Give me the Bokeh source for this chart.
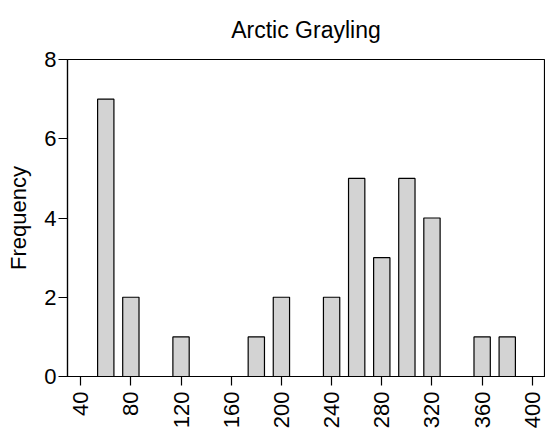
import math
from bokeh.plotting import figure
from bokeh.models import Range1d, FixedTicker
from bokeh.embed import file_html
from bokeh.resources import INLINE

# Data
lengths = [60, 80, 120, 180, 200, 240, 260, 280, 300, 320, 360, 380]
counts = [7, 2, 1, 1, 2, 2, 5, 3, 5, 4, 1, 1]
x_ticks = [40, 80, 120, 160, 200, 240, 280, 320, 360, 400]
y_ticks = [0, 2, 4, 6, 8]
title_text = "Arctic Grayling"

FONT = "Liberation Sans"

p = figure(width=545, height=438, output_backend="svg", toolbar_location=None,
           x_range=Range1d(29.5, 409.7), y_range=Range1d(0, 8),
           min_border_left=67, min_border_right=1, min_border_top=59,
           min_border_bottom=62, background_fill_color="white",
           border_fill_color="white")

p.vbar(x=lengths, top=counts, bottom=0, width=13, fill_color="#D3D3D3",
       line_color="black", line_width=1.2)

p.grid.visible = False
p.outline_line_color = "black"
p.outline_line_width = 1.2
p.outline_line_alpha = 1

p.title.text = title_text
p.title.text_font = FONT
p.title.text_font_size = "23px"
p.title.text_font_style = "normal"
p.title.text_color = "black"
p.title.align = "center"
p.title.vertical_align = "top"
p.title.offset = -7
p.title.standoff = 29

for ax in (p.xaxis[0], p.yaxis[0]):
    ax.axis_line_color = "black"
    ax.axis_line_width = 1.2
    ax.major_tick_line_color = "black"
    ax.major_tick_line_width = 1.2
    ax.major_tick_in = 0
    ax.major_tick_out = 9
    ax.minor_tick_line_color = None
    ax.major_label_text_font = FONT
    ax.major_label_text_font_size = "22px"
    ax.major_label_text_color = "black"
    ax.axis_label_text_font = FONT
    ax.axis_label_text_font_size = "22px"
    ax.axis_label_text_font_style = "normal"
    ax.axis_label_text_color = "black"

p.xaxis.ticker = FixedTicker(ticks=x_ticks)
p.xaxis.major_label_orientation = math.pi / 2
p.xaxis.major_label_standoff = 6

p.yaxis.ticker = FixedTicker(ticks=y_ticks)
p.yaxis.major_label_standoff = 2
p.yaxis.axis_label = "Frequency"
p.yaxis.axis_label_standoff = 10

open("out.html", "w").write(file_html(p, INLINE))
